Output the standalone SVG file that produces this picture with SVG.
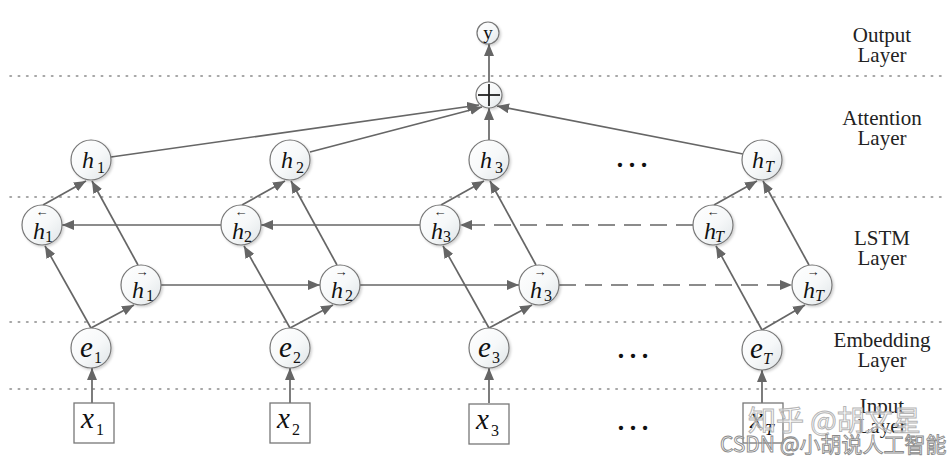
<svg xmlns="http://www.w3.org/2000/svg" width="948" height="463" viewBox="0 0 948 463">
<defs>
<linearGradient id="nf" x1="0" y1="0" x2="1" y2="1">
<stop offset="0" stop-color="#ffffff"/>
<stop offset="0.55" stop-color="#f6f8f9"/>
<stop offset="1" stop-color="#dfe4e7"/>
</linearGradient>
<filter id="sh" x="-30%" y="-30%" width="160%" height="160%">
<feDropShadow dx="1.5" dy="1.5" stdDeviation="1.2" flood-color="#000" flood-opacity="0.18"/>
</filter>
<marker id="arr" viewBox="0 0 12 10" refX="12" refY="5" markerWidth="12" markerHeight="10" markerUnits="userSpaceOnUse" orient="auto">
<path d="M0,0 L12,5 L0,10 z" fill="#666"/>
</marker>
</defs>
<style>
.dot{stroke:#8a8a8a;stroke-width:1.6;stroke-dasharray:1.4 6.9;stroke-linecap:round;fill:none}
.n{fill:url(#nf);stroke:#777;stroke-width:1.2;filter:url(#sh)}
.box{fill:#fff;stroke:#777;stroke-width:1.3}
.ca{stroke:#666;stroke-width:1.7;fill:none;marker-end:url(#arr)}
.da{stroke:#666;stroke-width:1.7;fill:none;stroke-dasharray:17 9;marker-end:url(#arr)}
.v{font-style:italic;font-size:24px;fill:#111}
.ve{font-style:italic;font-size:29px;fill:#111}
.s{font-style:normal;font-size:16px}
.si{font-style:italic;font-size:16px}
.ar{font-size:13px;fill:#222;text-anchor:middle}
.lab{font-size:21px;fill:#222;text-anchor:middle}
.ell{font-size:36px;fill:#111;text-anchor:middle}
.wm1{font-size:28px;fill:#fff;fill-opacity:0.55;stroke:#b5b5b5;stroke-width:1}
.wm2{font-size:21px;fill:#fff;fill-opacity:0.5;stroke:#8a8a8a;stroke-width:0.9}
</style>
<rect width="948" height="463" fill="#fff"/>

<g id="layer-lines">
<line class="dot" x1="10" y1="76" x2="942" y2="76"/>
<line class="dot" x1="10" y1="197" x2="942" y2="197"/>
<line class="dot" x1="10" y1="322" x2="942" y2="322"/>
<line class="dot" x1="10" y1="389" x2="942" y2="389"/>
</g>

<g id="layer-labels" font-family="'Liberation Serif', 'Times New Roman', 'DejaVu Serif', serif">
<text class="lab" x="882" y="42">Output</text>
<text class="lab" x="882" y="62">Layer</text>
<text class="lab" x="882" y="125">Attention</text>
<text class="lab" x="882" y="145">Layer</text>
<text class="lab" x="882" y="245">LSTM</text>
<text class="lab" x="882" y="265">Layer</text>
<text class="lab" x="882" y="347">Embedding</text>
<text class="lab" x="882" y="367">Layer</text>
<text class="lab" x="882" y="413">Input</text>
<text class="lab" x="882" y="433">Layer</text>
</g>

<g id="connectors">
<line class="ca" x1="92" y1="403" x2="92" y2="368"/>
<line class="ca" x1="290" y1="403" x2="290" y2="368"/>
<line class="ca" x1="489" y1="403" x2="489" y2="368"/>
<line class="ca" x1="762" y1="403" x2="762" y2="370"/>
<line class="ca" x1="91" y1="328" x2="45" y2="246"/>
<line class="ca" x1="290" y1="328" x2="244" y2="246"/>
<line class="ca" x1="489" y1="328" x2="443" y2="246"/>
<line class="ca" x1="762" y1="330" x2="716" y2="246"/>
<line class="ca" x1="91" y1="328" x2="134" y2="305"/>
<line class="ca" x1="290" y1="328" x2="333" y2="305"/>
<line class="ca" x1="489" y1="328" x2="532" y2="305"/>
<line class="ca" x1="762" y1="330" x2="805" y2="305"/>
<line class="ca" x1="43" y1="205" x2="86" y2="181"/>
<line class="ca" x1="242" y1="205" x2="285" y2="181"/>
<line class="ca" x1="441" y1="205" x2="484" y2="181"/>
<line class="ca" x1="714" y1="205" x2="757" y2="181"/>
<line class="ca" x1="138" y1="265" x2="92" y2="181"/>
<line class="ca" x1="337" y1="265" x2="291" y2="181"/>
<line class="ca" x1="536" y1="265" x2="490" y2="181"/>
<line class="ca" x1="809" y1="265" x2="763" y2="181"/>
<line class="ca" x1="221" y1="225" x2="62" y2="225"/>
<line class="ca" x1="420" y1="225" x2="261" y2="225"/>
<line class="da" x1="693" y1="225" x2="460" y2="225"/>
<line class="ca" x1="161" y1="285" x2="320" y2="285"/>
<line class="ca" x1="360" y1="285" x2="519" y2="285"/>
<line class="da" x1="559" y1="285" x2="792" y2="285"/>
<line class="ca" x1="111" y1="157" x2="479" y2="105"/>
<line class="ca" x1="310" y1="152" x2="482" y2="107"/>
<line class="ca" x1="489" y1="140" x2="489" y2="108"/>
<line class="ca" x1="743" y1="154" x2="497" y2="106"/>
<line class="ca" x1="489" y1="82" x2="489" y2="44"/>
</g>

<g id="node-y">
<circle class="n" cx="488" cy="33" r="11"/>
<text x="488" y="39" font-family="'Liberation Serif', 'Times New Roman', serif" font-size="19" fill="#111" text-anchor="middle">y</text>
</g>
<g id="node-sum">
<circle class="n" cx="489" cy="95" r="13"/>
<line x1="478" y1="95" x2="500" y2="95" stroke="#222" stroke-width="1.8"/>
<line x1="489" y1="84" x2="489" y2="106" stroke="#222" stroke-width="1.8"/>
</g>

<g id="nodes" font-family="'Liberation Serif', 'Times New Roman', 'DejaVu Serif', serif">
<g id="node-h1"><circle class="n" cx="91" cy="160" r="20"/><text class="v" x="82" y="168">h<tspan class="s" dx="3" dy="5">1</tspan></text></g>
<g id="node-h2"><circle class="n" cx="290" cy="160" r="20"/><text class="v" x="281" y="168">h<tspan class="s" dx="3" dy="5">2</tspan></text></g>
<g id="node-h3"><circle class="n" cx="489" cy="160" r="20"/><text class="v" x="480" y="168">h<tspan class="s" dx="3" dy="5">3</tspan></text></g>
<g id="node-hT"><circle class="n" cx="762" cy="160" r="20"/><text class="v" x="752" y="168">h<tspan class="si" dx="1" dy="4">T</tspan></text></g>

<g id="node-hb1"><circle class="n" cx="42" cy="225" r="20"/><text class="ar" x="42" y="216">←</text><text class="v" x="33" y="239">h<tspan class="s" dx="0" dy="3">1</tspan></text></g>
<g id="node-hb2"><circle class="n" cx="241" cy="225" r="20"/><text class="ar" x="241" y="216">←</text><text class="v" x="232" y="239">h<tspan class="s" dx="0" dy="3">2</tspan></text></g>
<g id="node-hb3"><circle class="n" cx="440" cy="225" r="20"/><text class="ar" x="440" y="216">←</text><text class="v" x="431" y="239">h<tspan class="s" dx="0" dy="3">3</tspan></text></g>
<g id="node-hbT"><circle class="n" cx="713" cy="225" r="20"/><text class="ar" x="713" y="216">←</text><text class="v" x="704" y="239">h<tspan class="si" dx="-1" dy="3">T</tspan></text></g>

<g id="node-hf1"><circle class="n" cx="141" cy="285" r="20"/><text class="ar" x="142" y="276">→</text><text class="v" x="132" y="298">h<tspan class="s" dx="2" dy="3">1</tspan></text></g>
<g id="node-hf2"><circle class="n" cx="340" cy="285" r="20"/><text class="ar" x="341" y="276">→</text><text class="v" x="331" y="298">h<tspan class="s" dx="2" dy="3">2</tspan></text></g>
<g id="node-hf3"><circle class="n" cx="539" cy="285" r="20"/><text class="ar" x="540" y="276">→</text><text class="v" x="530" y="298">h<tspan class="s" dx="2" dy="3">3</tspan></text></g>
<g id="node-hfT"><circle class="n" cx="812" cy="285" r="20"/><text class="ar" x="813" y="276">→</text><text class="v" x="803" y="298">h<tspan class="si" dx="0" dy="3">T</tspan></text></g>

<g id="node-e1"><circle class="n" cx="91" cy="348" r="20"/><text class="ve" x="80" y="357">e<tspan class="s" dx="1" dy="6">1</tspan></text></g>
<g id="node-e2"><circle class="n" cx="290" cy="348" r="20"/><text class="ve" x="279" y="357">e<tspan class="s" dx="1" dy="6">2</tspan></text></g>
<g id="node-e3"><circle class="n" cx="489" cy="348" r="20"/><text class="ve" x="478" y="357">e<tspan class="s" dx="1" dy="6">3</tspan></text></g>
<g id="node-eT"><circle class="n" cx="762" cy="350" r="20"/><text class="ve" x="750" y="358">e<tspan class="si" dx="0" dy="6">T</tspan></text></g>

<g id="node-x1"><rect class="box" x="74" y="403" width="40" height="40"/><text class="ve" x="81" y="428">x<tspan class="s" dx="2" dy="7">1</tspan></text></g>
<g id="node-x2"><rect class="box" x="270" y="403" width="40" height="40"/><text class="ve" x="277" y="428">x<tspan class="s" dx="2" dy="7">2</tspan></text></g>
<g id="node-x3"><rect class="box" x="469" y="404" width="40" height="40"/><text class="ve" x="476" y="429">x<tspan class="s" dx="2" dy="7">3</tspan></text></g>
<g id="node-xT"><rect class="box" x="743" y="403" width="40" height="40"/><text class="ve" x="750" y="428">x<tspan class="si" dx="2" dy="7">T</tspan></text></g>

<g id="ellipses">
<text class="ell" x="632" y="167">…</text>
<text class="ell" x="633" y="358">…</text>
<text class="ell" x="633" y="430">…</text>
</g>
</g>

<g id="watermark" font-family="'Noto Sans CJK SC', sans-serif">
<text class="wm1" x="748" y="431">知乎 @胡文星</text>
<text class="wm2" x="720" y="452">CSDN @小胡说人工智能</text>
</g>
</svg>
